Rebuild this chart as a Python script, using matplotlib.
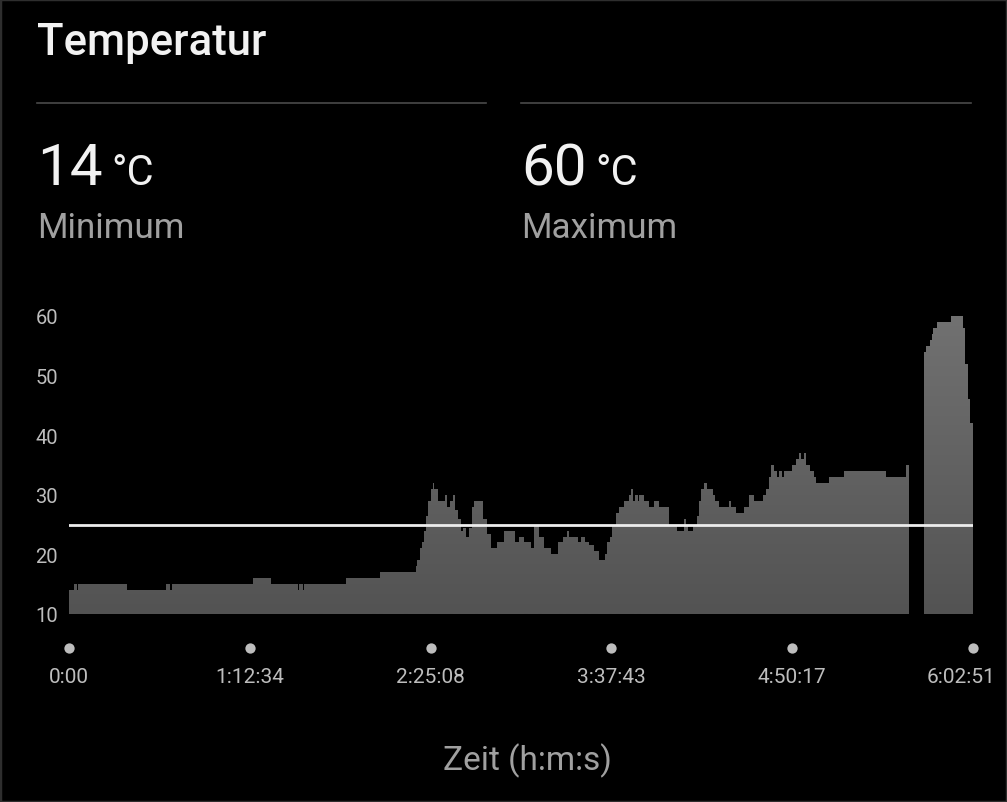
import matplotlib
matplotlib.use("Agg")
import matplotlib.pyplot as plt
import numpy as np
from matplotlib.path import Path
from matplotlib.colors import LinearSegmentedColormap
from matplotlib.transforms import blended_transform_factory, ScaledTranslation
from matplotlib.patches import Rectangle

plt.rcParams['font.family'] = ['Roboto', 'DejaVu Sans']

# ---- data (time in minutes, temperature in °C, step-wise) ----
zeit_min = [0.0, 2.0, 3.1, 3.5, 23.2, 38.9, 40.5, 41.3, 73.9, 81.0, 91.9, 92.5, 93.9, 94.5,
            111.1, 124.8, 139.2, 139.6, 140.9, 141.8, 142.6, 143.3, 144.0, 145.3, 146.0,
            146.6, 148.0, 150.9, 151.8, 152.9, 154.0, 154.9, 156.3, 157.2, 158.3, 159.3,
            160.7, 161.9, 162.7, 166.0, 167.8, 169.4, 171.7, 174.7, 179.0, 180.6, 182.8,
            185.4, 186.8, 188.6, 190.8, 193.5, 196.2, 198.2, 199.9, 200.8, 204.4, 205.5,
            207.1, 208.7, 210.8, 212.9, 215.1, 215.8, 217.0, 217.8, 219.6, 220.9, 222.9,
            224.8, 225.5, 226.3, 227.3, 228.3, 228.9, 230.8, 232.9, 234.8, 236.8, 240.8,
            243.9, 246.7, 247.5, 248.3, 250.3, 251.9, 253.0, 253.7, 254.7, 255.9, 258.3,
            259.3, 260.9, 264.9, 265.7, 267.7, 271.0, 272.9, 275.0, 278.4, 279.8, 281.1,
            281.8, 282.8, 284.2, 285.1, 286.2, 287.1, 290.1, 291.8, 293.0, 293.8, 294.9,
            295.9, 297.5, 298.9, 299.9, 304.9, 310.9, 328.0, 335.9, 337.3, 343.2, 343.9,
            345.6, 346.2, 346.9, 348.2, 354.0, 358.7, 359.6, 360.7, 361.6, 362.85]
temp_c = [14, 15, 14, 15, 14, 15, 14, 15, 16, 15, 14, 15, 14, 15,
          16, 17, 18, 19, 21, 22, 24, 26.5, 29, 31, 32,
          31, 29, 30, 28, 29, 30, 27.5, 26, 24, 24.5, 23,
          24.5, 28, 29, 26, 23.5, 21, 22, 24, 22, 23, 22,
          21, 25, 23, 21, 20, 22, 23, 24, 23, 22, 23,
          22, 21.5, 20.5, 19, 20, 22, 23, 25, 27, 28, 29,
          30, 31, 29, 30, 29, 30, 29, 28, 29, 28, 25,
          24, 26, 25, 24, 25, 26.5, 29, 31, 32, 31, 30,
          29, 28, 29, 28, 27, 28, 30, 29, 30, 31, 33,
          35, 34, 33, 34, 33, 34, 35, 36, 37, 36, 37,
          35, 34, 33, 32, 33, 34, 33, 35, np.nan, 54, 55,
          56, 57, 58, 59, 60, 58, 52, 46, 42, 42]
tick_sec = [0, 4354, 8708, 13063, 17417, 21771]
tick_labels = ['0:00', '1:12:34', '2:25:08', '3:37:43', '4:50:17', '6:02:51']
y_ticks = [10, 20, 30, 40, 50, 60]
referenz = 25
titel = 'Temperatur'

W, H = 1007, 803
fig = plt.figure(figsize=(W / 100, H / 100), dpi=100, facecolor='black')

def fx(px):
    return px / W

def fy(py):
    return 1 - py / H

# card border
fig.patches.append(Rectangle((0, 0), 1, 1, transform=fig.transFigure, fill=False,
                             edgecolor='#2e2e2e', linewidth=2.5))

# header
fig.text(fx(37), fy(55), titel, color='#f2f2f2', fontsize=31.5, fontweight='medium', va='baseline')
fig.add_artist(plt.Line2D([fx(37), fx(486)], [fy(104), fy(104)], color='#4a4a4a', lw=1.2))
fig.add_artist(plt.Line2D([fx(521), fx(971)], [fy(104), fy(104)], color='#4a4a4a', lw=1.2))

t_arr = np.array(zeit_min)
v_arr = np.array(temp_c, dtype=float)
vmin = int(np.nanmin(v_arr))
vmax = int(np.nanmax(v_arr))
for x0, val, lab in [(37, vmin, 'Minimum'), (521, vmax, 'Maximum')]:
    fig.text(fx(x0), fy(185), f'{val}', color='#f2f2f2', fontsize=42, va='baseline')
    fig.text(fx(x0 + 74), fy(185), '°C', color='#f2f2f2', fontsize=30, va='baseline')
    fig.text(fx(x0), fy(238), lab, color='#a0a0a0', fontsize=25.2, va='baseline')

# chart axes
ax = fig.add_axes([fx(69), fy(615), (973 - 69) / W, (615 - 317) / H])
ax.set_facecolor('none')
xmax = tick_sec[-1] / 60

# step-area segments split at gaps
nan_idx = list(np.where(np.isnan(v_arr))[0])
bounds = [-1] + nan_idx + [len(v_arr)]
paths = []
for a, b in zip(bounds[:-1], bounds[1:]):
    s = a + 1
    xs = list(t_arr[s:b])
    ys = list(v_arr[s:b])
    if b < len(v_arr):
        xs.append(t_arr[b])
        ys.append(ys[-1])
    pc = ax.fill_between(xs, 10, ys, step='post', facecolor='none', edgecolor='none')
    paths.extend(pc.get_paths())
compound = Path.make_compound_path(*paths)

cmap = LinearSegmentedColormap.from_list('g', ['#535353', '#717171'])
img = ax.imshow(np.linspace(0, 1, 256).reshape(-1, 1), extent=[0, xmax, 10, 60],
                origin='lower', cmap=cmap, aspect='auto', zorder=1, interpolation='bilinear')
img.set_clip_path(compound, ax.transData)

ax.axhline(referenz, color='#ececec', lw=2, zorder=3)

ax.set_xlim(0, xmax)
ax.set_ylim(10, 60)
for sp in ax.spines.values():
    sp.set_visible(False)

tick_min = [s / 60 for s in tick_sec]
ax.set_xticks(tick_min, tick_labels)
ax.set_yticks(y_ticks, [str(v) for v in y_ticks])
ax.tick_params(axis='x', length=0, pad=38, labelsize=15, labelcolor='#bdbdbd')
ax.tick_params(axis='y', length=0, pad=8, labelsize=14.5, labelcolor='#bdbdbd')
# last label is shifted inward to stay inside the card
last = ax.get_xticklabels()[-1]
last.set_transform(last.get_transform() + ScaledTranslation(-0.12, 0, fig.dpi_scale_trans))

trans = blended_transform_factory(ax.transData, ax.transAxes)
ax.scatter(tick_min, [(615 - 649) / 298] * len(tick_min), s=55, color='#bdbdbd',
           transform=trans, clip_on=False, zorder=4, linewidths=0)

ax.set_xlabel('Zeit (h:m:s)', color='#a0a0a0', fontsize=24, va='baseline')
ax.xaxis.set_label_coords((527 - 69) / 904, (615 - 770) / 298)

fig.savefig('out.png', dpi=100, facecolor='black')
